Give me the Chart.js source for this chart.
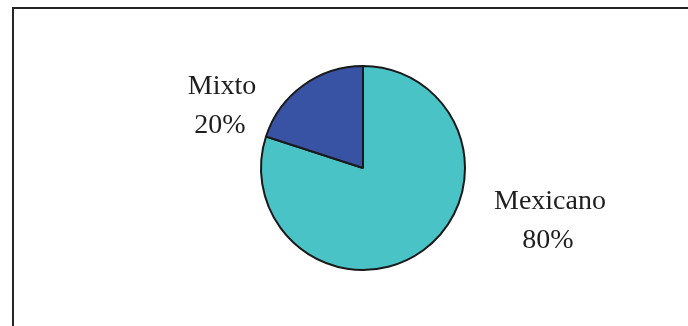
<!DOCTYPE html>
<html>
<head>
<meta charset="utf-8">
<script src="https://cdn.jsdelivr.net/npm/chart.js@4/dist/chart.umd.min.js"></script>
<style>
  html, body { margin: 0; padding: 0; background: #fff; }
  #wrap { width: 688px; height: 326px; position: relative; }
</style>
</head>
<body>
<div id="wrap"><canvas id="pie"></canvas></div>
<script>
// values of the pie (percent)
const categories = ["Mexicano", "Mixto"];
const values = [80, 20];
const colors = ["#4AC3C7", "#3853A3"];

// frame around the plot, open to the right and bottom like the original sheet
const framePlugin = {
  id: 'frame',
  beforeDraw(chart) {
    const ctx = chart.ctx;
    ctx.save();
    ctx.strokeStyle = '#262626';
    ctx.lineWidth = 2;
    ctx.strokeRect(13, 8, chart.width + 20, chart.height + 20);
    ctx.restore();
  }
};

// category + percent label next to each slice, offsets are from the pie centre
const sliceLabels = {
  id: 'sliceLabels',
  afterDatasetsDraw(chart, args, opts) {
    const ctx = chart.ctx;
    const arcs = chart.getDatasetMeta(0).data;
    const total = values.reduce((a, b) => a + b, 0);
    ctx.save();
    ctx.fillStyle = '#1e1e1e';
    ctx.font = '28px "Liberation Serif", "Times New Roman", serif';
    ctx.textAlign = 'center';
    ctx.textBaseline = 'alphabetic';
    arcs.forEach((arc, i) => {
      const off = opts.offsets[i];
      const x = arc.x + off[0];
      const y = arc.y + off[1];
      const pct = Math.round(values[i] / total * 100) + '%';
      ctx.fillText(categories[i], x, y);
      ctx.fillText(pct, x - 2, y + 39);
    });
    ctx.restore();
  }
};

new Chart(document.getElementById('pie'), {
  type: 'pie',
  data: {
    labels: categories,
    datasets: [{
      data: values,
      backgroundColor: colors,
      borderColor: '#1a1a1a',
      borderWidth: 2
    }]
  },
  options: {
    responsive: true,
    maintainAspectRatio: false,
    animation: false,
    layout: { padding: { left: 100, right: 62, top: 65, bottom: 55 } },
    plugins: {
      legend: { display: false },
      tooltip: { enabled: false },
      sliceLabels: { offsets: [[187, 41], [-141, -74]] }
    }
  },
  plugins: [framePlugin, sliceLabels]
});
</script>
</body>
</html>
